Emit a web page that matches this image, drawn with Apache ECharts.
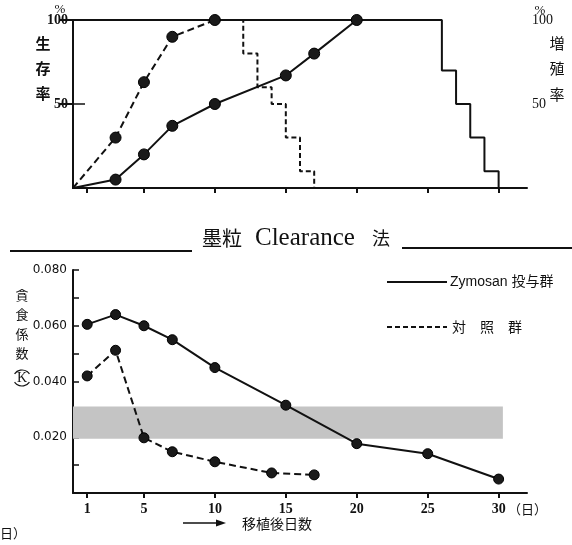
<!DOCTYPE html>
<html><head><meta charset="utf-8">
<script src="https://cdn.jsdelivr.net/npm/echarts@6/dist/echarts.min.js"></script>
<style>html,body{margin:0;padding:0;background:#fff}#c{width:572px;height:545px}</style>
</head><body><div id="c"></div>
<script>
// ---- Top panel (days vs %) ----
const dayTicks = [1, 5, 10, 15, 20, 25, 30];
const growthZymosan = [[0, 0], [3, 5], [5, 20], [7, 37], [10, 50], [15, 67], [17, 80], [20, 100]];
const growthControl = [[0, 0], [3, 30], [5, 63], [7, 90], [10, 100]];
const survivalZymosan = [[0, 100], [26, 70], [27, 50], [28, 30], [29, 10], [30, 0]];
const survivalControl = [[0, 100], [12, 80], [13, 60], [14, 50], [15, 30], [16, 10], [17, 0]];
const pctLabels = [50, 100];
// ---- Bottom panel (clearance coefficient K) ----
const clearanceZymosan = [[1, 0.0605], [3, 0.064], [5, 0.060], [7, 0.055], [10, 0.045], [15, 0.0315], [20, 0.0177], [25, 0.0141], [30, 0.005]];
const clearanceControl = [[1, 0.042], [3, 0.0512], [5, 0.0198], [7, 0.0148], [10, 0.0112], [14, 0.0072], [17, 0.0065]];
const normalRangeK = [0.0195, 0.031];
const normalRangeDays = [0, 30.3];
const kLabels = ['0.020', '0.040', '0.060', '0.080'];

const SERIF = "'Liberation Serif','Noto Sans CJK JP',serif";
const CJK = "'Noto Sans CJK JP',sans-serif";
const INK = '#111';

function markers(arr, size) {
  return arr.map(p => (p[0] === 0 && p[1] === 0) ? { value: p, symbol: 'none' } : { value: p, symbolSize: size });
}
function txt(x, y, s, size, opt) {
  return {
    type: 'text', x: x, y: y,
    style: Object.assign({ text: s, fill: INK, font: (opt && opt.bold ? 'bold ' : '') + size + 'px ' + (opt && opt.family || CJK), textAlign: 'center', textVerticalAlign: 'middle' }, opt && opt.style || {})
  };
}
function vline(x1, y1, x2, y2, w, dash) {
  return { type: 'line', shape: { x1, y1, x2, y2 }, style: { stroke: INK, lineWidth: w, lineDash: dash || null } };
}

const chart = echarts.init(document.getElementById('c'), null, { renderer: 'canvas' });

const xBase = {
  type: 'value', min: 0, max: 32,
  splitLine: { show: false },
  axisLine: { show: true, onZero: false, lineStyle: { color: INK, width: 2 } },
  axisTick: { show: true, customValues: dayTicks, length: 5, lineStyle: { color: INK, width: 2 } },
  axisLabel: { show: false }
};

const option = {
  animation: false,
  backgroundColor: '#fff',
  grid: [
    { left: 73, top: 20, width: 454, height: 168 },
    { left: 73, top: 270, width: 454, height: 223 }
  ],
  xAxis: [
    Object.assign({}, xBase, { gridIndex: 0 }),
    Object.assign({}, xBase, { gridIndex: 0, axisLine: { show: false }, axisTick: { show: true, inside: true, customValues: dayTicks, length: 5, lineStyle: { color: INK, width: 2 } } }),
    Object.assign({}, xBase, {
      gridIndex: 1,
      axisLabel: { show: true, customValues: dayTicks, margin: 9, color: INK, fontFamily: SERIF, fontWeight: 'bold', fontSize: 14 }
    }),
    Object.assign({}, xBase, { gridIndex: 1, axisLine: { show: false }, axisTick: { show: true, inside: true, customValues: dayTicks, length: 5, lineStyle: { color: INK, width: 2 } } })
  ],
  yAxis: [
    {
      gridIndex: 0, type: 'value', min: 0, max: 100, position: 'left',
      splitLine: { show: false },
      axisLine: { show: true, lineStyle: { color: INK, width: 2 } },
      axisTick: { show: true, inside: true, customValues: [50], length: 12, lineStyle: { color: INK, width: 1.5 } },
      axisLabel: { show: true, customValues: pctLabels, margin: 5, color: INK, fontFamily: SERIF, fontWeight: 'bold', fontSize: 14 }
    },
    {
      gridIndex: 0, type: 'value', min: 0, max: 100, position: 'right',
      splitLine: { show: false },
      axisLine: { show: true, lineStyle: { color: INK, width: 2 } },
      axisTick: { show: true, inside: true, customValues: pctLabels, length: 14, lineStyle: { color: INK, width: 2 } },
      axisLabel: { show: true, customValues: pctLabels, margin: 5, color: INK, fontFamily: SERIF, fontSize: 14 }
    },
    {
      gridIndex: 1, type: 'value', min: 0, max: 0.08, interval: 0.01,
      splitLine: { show: false },
      axisLine: { show: true, lineStyle: { color: INK, width: 2 } },
      axisTick: { show: true, inside: true, length: 6, lineStyle: { color: INK, width: 1.5 } },
      axisLabel: {
        show: true, margin: 6, color: INK, fontFamily: "'DejaVu Sans',sans-serif", fontSize: 12,
        formatter: v => { const s = v.toFixed(3); return kLabels.indexOf(s) >= 0 ? s : ''; }
      }
    }
  ],
  series: [
    {
      type: 'line', xAxisIndex: 0, yAxisIndex: 0, step: 'end', data: survivalControl, symbol: 'none', z: 2,
      lineStyle: { color: INK, width: 2, type: [5, 3] }
    },
    {
      type: 'line', xAxisIndex: 0, yAxisIndex: 0, step: 'end', data: survivalZymosan, symbol: 'none', z: 3,
      lineStyle: { color: INK, width: 2 }
    },
    {
      type: 'line', xAxisIndex: 0, yAxisIndex: 1, data: markers(growthControl, 11), symbol: 'circle', z: 4,
      lineStyle: { color: INK, width: 2, type: [7, 4] }, itemStyle: { color: '#1a1a1a', borderColor: '#000', borderWidth: 1 }
    },
    {
      type: 'line', xAxisIndex: 0, yAxisIndex: 1, data: markers(growthZymosan, 11), symbol: 'circle', z: 4,
      lineStyle: { color: INK, width: 2 }, itemStyle: { color: '#1a1a1a', borderColor: '#000', borderWidth: 1 }
    },
    {
      type: 'line', xAxisIndex: 2, yAxisIndex: 2, data: clearanceZymosan, symbol: 'circle', symbolSize: 10, z: 4,
      lineStyle: { color: INK, width: 2 }, itemStyle: { color: '#1a1a1a', borderColor: '#000', borderWidth: 1 },
      markArea: {
        silent: true,
        itemStyle: { color: '#c4c4c4' },
        data: [[{ coord: [normalRangeDays[0], normalRangeK[0]] }, { coord: [normalRangeDays[1], normalRangeK[1]] }]]
      }
    },
    {
      type: 'line', xAxisIndex: 2, yAxisIndex: 2, data: clearanceControl, symbol: 'circle', symbolSize: 10, z: 4,
      lineStyle: { color: INK, width: 2, type: [7, 4] }, itemStyle: { color: '#1a1a1a', borderColor: '#000', borderWidth: 1 }
    }
  ],
  graphic: [
    // top-left axis title
    txt(60, 10, '%', 13, { family: SERIF }),
    txt(43, 43, '生', 15, { bold: true }),
    txt(43, 68, '存', 15, { bold: true }),
    txt(43, 93, '率', 15, { bold: true }),
    // top-right axis title
    txt(540, 11, '%', 13, { family: SERIF }),
    txt(557, 43, '増', 15, {}),
    txt(557, 68, '殖', 15, {}),
    txt(557, 94, '率', 15, {}),
    // section title
    vline(10, 251, 192, 251, 2),
    vline(402, 248, 572, 248, 2),
    txt(222, 238, '墨粒', 20, {}),
    txt(255, 238, 'Clearance', 25, { family: SERIF, style: { textAlign: 'left' } }),
    txt(381, 238, '法', 18, {}),
    // legend
    vline(387, 282, 447, 282, 2),
    txt(450, 282, 'Zymosan 投与群', 14, { family: "'Liberation Sans','Noto Sans CJK JP',sans-serif", style: { textAlign: 'left' } }),
    vline(387, 327, 447, 327, 2, [5, 3]),
    txt(452, 327, '対　照　群', 14, { style: { textAlign: 'left' } }),
    // bottom y title
    txt(22, 295, '貪', 13, {}),
    txt(22, 314, '食', 13, {}),
    txt(22, 334, '係', 13, {}),
    txt(22, 353, '数', 13, {}),
    { type: 'arc', shape: { cx: 22, cy: 379, r: 9, startAngle: Math.PI + 0.6, endAngle: 2 * Math.PI - 0.6 }, style: { stroke: INK, lineWidth: 1.2, fill: null } },
    txt(22, 378, 'K', 14, { family: SERIF }),
    { type: 'arc', shape: { cx: 22, cy: 377, r: 9, startAngle: 0.6, endAngle: Math.PI - 0.6 }, style: { stroke: INK, lineWidth: 1.2, fill: null } },
    // x title
    vline(183, 523, 222, 523, 1.5),
    { type: 'polygon', shape: { points: [[216, 519.5], [226, 523], [216, 526.5]] }, style: { fill: INK } },
    txt(242, 524, '移植後日数', 14, { style: { textAlign: 'left' } }),
    txt(508, 509, '（日）', 13, { style: { textAlign: 'left' } }),
    txt(0, 533, '日）', 13, { style: { textAlign: 'left' } })
  ]
};
chart.setOption(option);
</script>
</body></html>
